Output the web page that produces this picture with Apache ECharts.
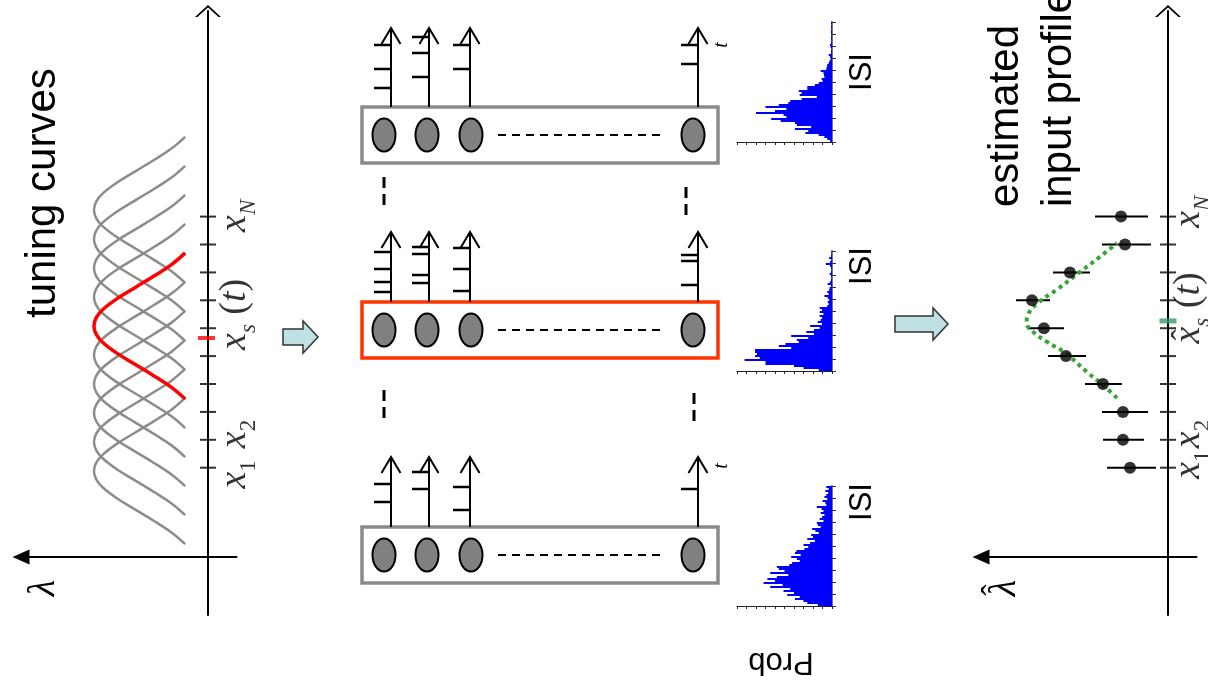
<!DOCTYPE html>
<html>
<head>
<meta charset="utf-8">
<script src="https://cdn.jsdelivr.net/npm/echarts@6/dist/echarts.min.js"></script>
<style>
html, body { margin: 0; padding: 0; background: #fff; }
#main { width: 1208px; height: 693px; }
</style>
</head>
<body>
<div id="main"></div>
<script>
// ---- data ----
// stimulus-axis positions of the neurons' tick marks (x1 ... xN)
const tickPos = [3.2, 4.2, 5.2, 6.2, 7.2, 8.2, 9.2, 10.2, 11.2, 12.2];
// preferred positions of the tuning curves, the red one is index 5
const curveCenters = [3.08, 4.12, 5.16, 6.20, 7.24, 8.28, 9.32, 10.36, 11.40, 12.44];
const redCurve = 5;
// shape of one tuning curve: offset from its centre and firing rate
const profileOffset = [-2.62, -2.2, -1.8, -1.4, -1.0, -0.6, -0.3, 0, 0.3, 0.6, 1.0, 1.4, 1.8, 2.2, 2.62];
const profileRate = [0.2, 0.32, 0.47, 0.63, 0.79, 0.92, 0.98, 1.0, 0.98, 0.92, 0.79, 0.63, 0.47, 0.32, 0.2];
const stimPos = 7.85;      // x_s(t)
const estPos = 8.46;       // estimated x_s(t)

// estimated rates with error bars, one per neuron
const estRate = [0.333, 0.395, 0.395, 0.570, 0.895, 1.088, 1.193, 0.860, 0.377, 0.412];
const estLow = [0.105, 0.210, 0.175, 0.404, 0.719, 0.912, 1.035, 0.684, 0.149, 0.175];
const estHigh = [0.535, 0.570, 0.579, 0.728, 1.053, 1.237, 1.333, 1.009, 0.579, 0.640];
// dotted fit through the estimates
const fitPos = [5.70, 6.16, 6.63, 7.31, 7.71, 8.06, 8.39, 8.67, 9.14, 9.57, 10.22, 10.75, 11.25];
const fitRate = [0.447, 0.570, 0.710, 0.900, 1.060, 1.180, 1.240, 1.230, 1.130, 0.980, 0.770, 0.600, 0.447];

// spike times of the four shown neurons in each trial, counted up from the box
const spikesTop = [[62, 38, 19], [70, 54, 30], [62, 38], [62, 43]];
const spikesMid = [[50, 33, 20, 10], [55, 48, 27, 19], [54, 33, 11], [47, 41, 17]];
const spikesBottom = [[43, 25], [55, 38], [40, 17], [38]];

// ISI histograms (60 bins each, probability in tenths of the axis)
const isiBins = Array.from({ length: 60 }, (_, i) => i);
const histTop = [0.2, 0.5, 0.8, 1.4, 2.8, 2.5, 3.9, 2.2, 3.7, 3.9,
  5.4, 6.4, 4.8, 5.1, 8.0, 6.0, 4.8, 7.0, 5.6, 4.6,
  4.4, 3.2, 1.6, 3.4, 3.2, 3.5, 2.6, 2.6, 1.8, 1.4,
  1.0, 1.1, 0.8, 0.85, 0.9, 1.2, 0.6, 0.55, 0.5, 0.35,
  0.25, 0.15, 0.2, 0.35, 0.1, 0.1, 0.05, 0.15, 0.2, 0.1,
  0.05, 0.1, 0.1, 0.05, 0.1, 0.1, 0.05, 0.1, 0.05, 0.1];
const histMid = [1.4, 3.0, 4.0, 7.0, 7.0, 9.2, 7.6, 8.1, 7.9, 8.1,
  8.1, 4.3, 5.6, 4.9, 3.5, 3.7, 2.5, 4.3, 1.9, 2.7,
  1.9, 1.3, 2.3, 1.05, 1.5, 1.2, 1.05, 1.3, 0.9, 1.3,
  1.05, 1.3, 0.5, 0.35, 0.45, 0.3, 0.45, 0.8, 0.35, 0.5,
  0.3, 0.25, 0.1, 0.45, 0.2, 0.1, 0.05, 0.1, 0.25, 0.1,
  0.05, 0.1, 0.2, 0.65, 0.2, 0.05, 0.3, 0.1, 0.05, 0.05];
const histBottom = [1.5, 2.6, 3.0, 3.9, 3.4, 4.7, 4.0, 5.1, 4.4, 6.5,
  5.2, 7.2, 6.0, 6.8, 5.8, 4.6, 6.5, 5.0, 5.6, 5.8,
  4.5, 4.2, 3.4, 3.7, 4.3, 3.3, 3.9, 3.75, 2.9, 2.5,
  3.0, 2.3, 1.8, 2.6, 2.0, 2.2, 1.4, 1.75, 2.1, 1.2,
  1.5, 1.6, 0.9, 1.3, 1.05, 0.8, 1.2, 0.9, 1.1, 1.6,
  0.6, 0.7, 1.0, 0.5, 0.8, 0.6, 0.4, 0.7, 0.35, 0.6];

// ---- layout ----
const chevron = 'path://M0,12 L13,0 L26,12 L23.6,12 L13,2.6 L2.4,12 Z';
const serif = '"Liberation Serif", "Times New Roman", serif';
const sans = '"Liberation Sans", Arial, sans-serif';

const boxLeft = 362, boxRight = 718, boxH = 56;
const boxTop = [107, 302, 527];
const boxColor = ['#8a8a8a', '#ff3300', '#8a8a8a'];
const cellX = [384, 427, 471, 693];
const trainX = [391, 429, 470, 698];
const trainLen = [79, 70, 70];
const spikeRows = [spikesTop, spikesMid, spikesBottom];
const gapDashes = [[384, 177, 205], [686, 187, 216], [384, 390, 420], [694, 393, 423]];
const blockArrows = [[283, 318, 337], [895, 948, 324]];

const chart = echarts.init(document.getElementById('main'));

function panelX(g) {
  return {
    gridIndex: g, type: 'value', inverse: true, min: -0.25, max: 1.64,
    axisLine: { show: true, onZero: true, lineStyle: { color: '#000', width: 2 },
      symbol: ['triangle', 'none'], symbolSize: [15, 17] },
    axisTick: { show: false }, axisLabel: { show: false }, splitLine: { show: false }
  };
}
function panelY(g) {
  return {
    gridIndex: g, type: 'value', min: -2.08, max: 19.57,
    axisLine: { show: true, onZero: true, lineStyle: { color: '#000', width: 2 },
      symbol: ['none', chevron], symbolSize: [26, 12] },
    axisTick: { show: false }, axisLabel: { show: false }, splitLine: { show: false }
  };
}
function histX(g) {
  return {
    gridIndex: g, type: 'value', inverse: true, min: 0, max: 10, interval: 1,
    axisLine: { show: true, lineStyle: { color: '#222', width: 1.2 } },
    axisTick: { show: true, length: 3, lineStyle: { color: '#222', width: 1 } },
    axisLabel: { show: false }, splitLine: { show: false }
  };
}
function histY(g) {
  return {
    gridIndex: g, type: 'category', data: isiBins, position: 'right',
    axisLine: { show: true, lineStyle: { color: '#777', width: 2 } },
    axisTick: { show: true, interval: 5, length: 4, lineStyle: { color: '#333', width: 1 } },
    axisLabel: { show: false }, splitLine: { show: false }
  };
}

const rich = {
  x: { fontFamily: serif, fontStyle: 'italic', fontSize: 38, color: '#000' },
  p: { fontFamily: serif, fontSize: 38, color: '#000' },
  s: { fontFamily: serif, fontStyle: 'italic', fontSize: 23, color: '#000', padding: [28, 0, 0, 0] },
  n: { fontFamily: serif, fontSize: 23, color: '#000', padding: [28, 0, 0, 0] },
  h: { fontFamily: serif, fontSize: 34, color: '#000' }
};
function tickLabels(lam, starts) {
  const texts = ['{x|x}{n|1}', '{x|x}{n|2}', '{x|x}{s|s}{p| (}{x|t}{p|)}', '{x|x}{s|N}'];
  return starts.map((p, i) => ({ value: [lam, p], label: { formatter: texts[i] } }));
}

function txt(text, x, y, deg, font, align) {
  return {
    type: 'text', x: x, y: y, rotation: deg * Math.PI / 180, silent: true,
    style: { text: text, font: font, fill: '#000', align: align, verticalAlign: 'middle',
      textAlign: align, textVerticalAlign: 'middle' }
  };
}

const curveSeries = curveCenters.map((c, k) => ({
  type: 'line', xAxisIndex: 0, yAxisIndex: 0, smooth: 0.4, showSymbol: false, silent: true,
  data: profileOffset.map((d, i) => [profileRate[i], c + d]),
  lineStyle: { color: k === redCurve ? '#ff0000' : '#8c8c8c', width: k === redCurve ? 3.5 : 2.5 },
  z: k === redCurve ? 5 : 3
}));

function renderRow(params, api) {
  const r = api.value(0);
  const top = boxTop[r], mid = top + boxH / 2;
  const a = api.coord([boxLeft, top]), b = api.coord([boxRight, top + boxH]);
  const kids = [{
    type: 'rect', shape: { x: a[0], y: a[1], width: b[0] - a[0], height: b[1] - a[1] },
    style: { fill: '#fff', stroke: boxColor[r], lineWidth: 3.5 }
  }];
  cellX.forEach(cx => {
    const c = api.coord([cx, mid]);
    kids.push({ type: 'ellipse', shape: { cx: c[0], cy: c[1], rx: 11.5, ry: 16.5 },
      style: { fill: '#808080', stroke: '#000', lineWidth: 2 } });
  });
  const d0 = api.coord([498, mid]), d1 = api.coord([660, mid]);
  kids.push({ type: 'line', shape: { x1: d0[0], y1: d0[1], x2: d1[0], y2: d1[1] },
    style: { stroke: '#000', lineWidth: 2, lineDash: [8, 6] } });
  spikeRows[r].forEach((times, k) => {
    const base = api.coord([trainX[k], top]), tip = api.coord([trainX[k], top - trainLen[r]]);
    kids.push({ type: 'line', shape: { x1: base[0], y1: base[1], x2: tip[0], y2: tip[1] },
      style: { stroke: '#000', lineWidth: 2 } });
    kids.push({ type: 'polyline', shape: { points: [[tip[0] - 9.5, tip[1] + 16], tip, [tip[0] + 9.5, tip[1] + 16]] },
      style: { stroke: '#000', lineWidth: 2, fill: null } });
    times.forEach(t => {
      const q = api.coord([trainX[k], top - t]);
      kids.push({ type: 'line', shape: { x1: q[0] - 17, y1: q[1], x2: q[0], y2: q[1] },
        style: { stroke: '#000', lineWidth: 2.5 } });
    });
  });
  return { type: 'group', children: kids };
}

function renderDash(params, api) {
  const a = api.coord([api.value(0), api.value(1)]), b = api.coord([api.value(0), api.value(2)]);
  return { type: 'line', shape: { x1: a[0], y1: a[1], x2: b[0], y2: b[1] },
    style: { stroke: '#000', lineWidth: 3, lineDash: [11, 6] } };
}

function renderBlockArrow(params, api) {
  const a = api.coord([api.value(0), api.value(2)]), b = api.coord([api.value(1), api.value(2)]);
  const x0 = a[0], x1 = b[0], cy = a[1], hl = 15, sh = 8, hh = 16;
  return { type: 'polygon',
    shape: { points: [[x0, cy - sh], [x1 - hl, cy - sh], [x1 - hl, cy - hh], [x1, cy],
      [x1 - hl, cy + hh], [x1 - hl, cy + sh], [x0, cy + sh]] },
    style: { fill: '#bfe1e3', stroke: '#333', lineWidth: 1.5 } };
}

const labelStyle = { show: true, position: 'inside', rotate: 90, align: 'left', verticalAlign: 'middle', rich: rich };

const option = {
  animation: false,
  grid: [
    { left: 21, top: 11, width: 215.5, height: 604 },
    { left: 981, top: 11, width: 215.5, height: 604 },
    { left: 737, top: 22, width: 95, height: 120 },
    { left: 737, top: 251, width: 95, height: 120 },
    { left: 737, top: 486, width: 95, height: 120 },
    { left: 0, top: 0, width: 1208, height: 693 }
  ],
  xAxis: [panelX(0), panelX(1), histX(2), histX(3), histX(4),
    { gridIndex: 5, type: 'value', min: 0, max: 1208, show: false }],
  yAxis: [panelY(0), panelY(1), histY(2), histY(3), histY(4),
    { gridIndex: 5, type: 'value', min: 0, max: 693, inverse: true, show: false }],
  series: [
    ...curveSeries,
    { type: 'scatter', xAxisIndex: 0, yAxisIndex: 0, silent: true, symbol: 'rect', symbolSize: [16, 2],
      itemStyle: { color: '#000' }, data: tickPos.map(p => [0, p]), z: 4 },
    { type: 'scatter', xAxisIndex: 0, yAxisIndex: 0, silent: true, symbol: 'rect', symbolSize: [17, 4],
      itemStyle: { color: '#ff0000' }, data: [[0.013, stimPos]], z: 6 },
    { type: 'scatter', xAxisIndex: 0, yAxisIndex: 0, silent: true, symbolSize: 0, clip: false,
      label: labelStyle, data: tickLabels(-0.237, [2.45, 3.9, 7.42, 11.65]) },

    { type: 'custom', xAxisIndex: 1, yAxisIndex: 1, silent: true,
      data: tickPos.map((p, i) => [estLow[i], estHigh[i], p]),
      encode: { x: [0, 1], y: 2 },
      renderItem: (params, api) => {
        const a = api.coord([api.value(0), api.value(2)]), b = api.coord([api.value(1), api.value(2)]);
        return { type: 'line', shape: { x1: a[0], y1: a[1], x2: b[0], y2: b[1] }, style: { stroke: '#000', lineWidth: 2 } };
      }, z: 3 },
    { type: 'line', xAxisIndex: 1, yAxisIndex: 1, silent: true, smooth: 0.4, showSymbol: false,
      data: fitPos.map((p, i) => [fitRate[i], p]),
      lineStyle: { color: '#3aa43a', width: 4, type: [4, 4] }, z: 4 },
    { type: 'scatter', xAxisIndex: 1, yAxisIndex: 1, silent: true, symbolSize: 12,
      itemStyle: { color: '#000' }, data: tickPos.map((p, i) => [estRate[i], p]), z: 5 },
    { type: 'scatter', xAxisIndex: 1, yAxisIndex: 1, silent: true, symbol: 'rect', symbolSize: [16, 2],
      itemStyle: { color: '#000' }, data: tickPos.map(p => [0, p]), z: 4 },
    { type: 'scatter', xAxisIndex: 1, yAxisIndex: 1, silent: true, symbol: 'rect', symbolSize: [17, 5],
      itemStyle: { color: '#3a9a6e' }, data: [[0, estPos]], z: 6 },
    { type: 'scatter', xAxisIndex: 1, yAxisIndex: 1, silent: true, symbolSize: 0, clip: false,
      label: labelStyle, data: tickLabels(-0.184, [2.8, 3.9, 7.65, 11.8]) },
    // the hat over the estimated x_s
    { type: 'scatter', xAxisIndex: 1, yAxisIndex: 1, silent: true, symbolSize: 0, clip: false,
      label: { show: true, position: 'inside', rotate: 90, align: 'center', verticalAlign: 'middle',
        formatter: '{h|\u02c6}', rich: rich },
      data: [[-0.16, 7.96]] },

    { type: 'bar', xAxisIndex: 2, yAxisIndex: 2, silent: true, data: histTop, barCategoryGap: '0%',
      itemStyle: { color: '#0000ff' } },
    { type: 'bar', xAxisIndex: 3, yAxisIndex: 3, silent: true, data: histMid, barCategoryGap: '0%',
      itemStyle: { color: '#0000ff' } },
    { type: 'bar', xAxisIndex: 4, yAxisIndex: 4, silent: true, data: histBottom, barCategoryGap: '0%',
      itemStyle: { color: '#0000ff' } },

    { type: 'custom', xAxisIndex: 5, yAxisIndex: 5, silent: true, clip: false,
      data: [[0], [1], [2]], renderItem: renderRow, z: 2 },
    { type: 'custom', xAxisIndex: 5, yAxisIndex: 5, silent: true, clip: false,
      data: gapDashes, renderItem: renderDash, z: 2 },
    { type: 'custom', xAxisIndex: 5, yAxisIndex: 5, silent: true, clip: false,
      data: blockArrows, renderItem: renderBlockArrow, z: 2 }
  ],
  graphic: [
    txt('tuning curves', 43, 318, 90, '42px ' + sans, 'left'),
    txt('estimated', 1006, 207, 90, '42px ' + sans, 'left'),
    txt('input profile', 1059, 207, 90, '42px ' + sans, 'left'),
    txt('\u03bb', 44, 588, 90, 'italic 38px ' + serif, 'center'),
    txt('\u03bb', 1005, 588, 90, 'italic 38px ' + serif, 'center'),
    txt('\u02c6', 996, 590, 90, '34px ' + serif, 'center'),
    txt('ISI', 862, 72, 90, '31px ' + sans, 'center'),
    txt('ISI', 862, 266, 90, '31px ' + sans, 'center'),
    txt('ISI', 862, 502, 90, '31px ' + sans, 'center'),
    txt('Prob', 781, 662, 180, '31px ' + sans, 'center'),
    txt('t', 722, 45, 90, 'italic 20px ' + serif, 'center'),
    txt('t', 722, 466, 90, 'italic 20px ' + serif, 'center')
  ]
};

chart.setOption(option);
</script>
</body>
</html>
